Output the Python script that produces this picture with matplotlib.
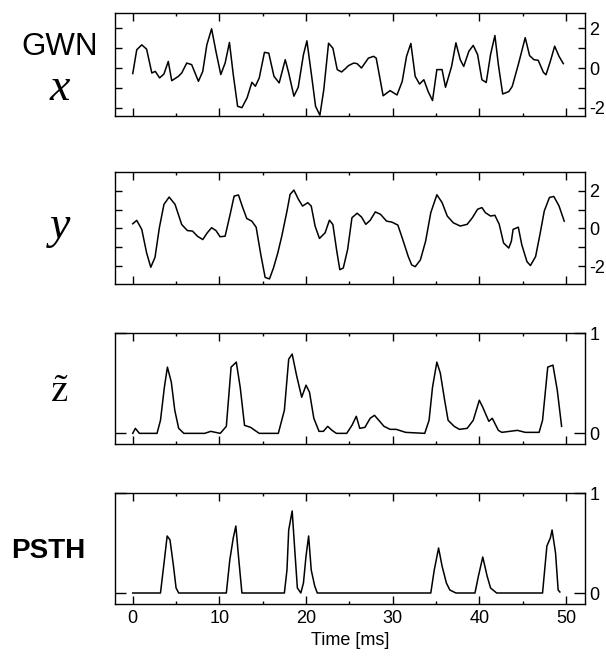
import matplotlib
matplotlib.use("Agg")
import matplotlib.pyplot as plt
from matplotlib.ticker import MultipleLocator

plt.rcParams['font.family'] = ['Liberation Sans', 'DejaVu Sans']
plt.rcParams['mathtext.fontset'] = 'stix'

# GWN input x
t1 = [0, 0.46, 1.04, 1.6, 2.2, 2.6, 3.1, 3.6, 4.1, 4.5, 5.27, 5.65, 6.23, 6.8, 7.58, 8.08, 8.55, 9.1,
      9.6, 10.16, 10.66, 11.16, 11.6, 12.1, 12.6, 13.2, 13.75, 14.15, 14.6, 15.2, 15.7, 16.3, 16.9, 17.6,
      18.0, 18.6, 19.1, 19.7, 20.1, 20.6, 21.1, 21.6, 22.05, 22.6, 23.1, 23.6, 24.1, 24.5, 24.9, 25.5,
      25.9, 26.4, 27.2, 27.8, 28.1, 28.9, 29.7, 30.5, 31.1, 31.6, 32.1, 32.6, 33.1, 33.6, 34.1, 34.6,
      35.1, 35.7, 36.1, 36.8, 37.3, 37.8, 38.2, 38.8, 39.3, 39.8, 40.3, 40.8, 41.3, 41.8, 42.2, 42.7,
      43.4, 43.8, 44.5, 45.3, 45.8, 46.3, 46.8, 47.4, 47.7, 48.2, 48.7, 49.2, 49.7]
x1 = [-0.28, 0.92, 1.17, 0.95, -0.25, -0.17, -0.5, -0.3, 0.33, -0.64, -0.42, -0.25, 0.25, 0.17, -0.67,
      -0.17, 1.17, 1.98, 0.84, -0.33, 0.25, 1.29, -0.33, -1.93, -2.0, -1.5, -0.72, -0.92, -0.5, 0.79,
      0.75, -0.42, -0.75, 0.42, -0.25, -1.42, -0.97, 0.67, 1.37, -0.25, -1.93, -2.38, -1.09, 1.25, 1.0,
      -0.08, -0.2, -0.05, 0.12, 0.25, 0.22, 0, 0.5, 0.59, 0.5, -1.4, -1.14, -1.36, -0.68, 0.59, 1.24,
      -0.42, -0.81, -0.59, -1.19, -1.64, -0.08, -0.08, -0.97, 0.08, 1.27, 0.42, 0.08, 0.85, 1.14, 0.68,
      -0.59, -0.73, 0.68, 1.64, 0.17, -1.31, -1.19, -0.93, 0.17, 1.53, 0.63, 0.42, 0.39, -0.22, -0.34,
      0.34, 1.1, 0.59, 0.22]

# filtered signal y
t2 = [0, 0.46, 1.04, 1.6, 2.08, 2.57, 3.07, 3.6, 4.2, 4.88, 5.65, 6.3, 6.9, 7.46, 8.08, 8.6, 9.1, 9.6,
      10.08, 10.66, 11.24, 11.7, 12.2, 12.7, 13.16, 13.74, 14.24, 14.78, 15.28, 15.78, 16.24, 16.74,
      17.2, 17.8, 18.16, 18.6, 19.12, 19.6, 20.2, 20.6, 21.05, 21.55, 22.2, 22.7, 23.1, 23.55, 23.9,
      24.3, 24.8, 25.3, 25.9, 26.4, 26.9, 27.4, 28.0, 28.6, 29.3, 29.9, 30.6, 31.1, 31.8, 32.2, 32.6,
      33.2, 33.8, 34.4, 35.1, 35.7, 36.3, 37.0, 37.8, 38.6, 39.2, 39.8, 40.3, 40.7, 41.3, 41.8, 42.3,
      42.8, 43.4, 43.7, 43.9, 44.5, 44.9, 45.5, 45.9, 46.5, 47.0, 47.5, 48.1, 48.6, 49.2, 49.8]
y2 = [0.25, 0.43, -0.05, -1.3, -2.06, -1.53, 0.04, 1.28, 1.67, 1.28, 0.21, -0.11, -0.14, -0.41, -0.59,
      -0.23, 0.04, -0.11, -0.44, -0.41, 0.75, 1.72, 1.78, 1.1, 0.53, 0.39, 0.07, -1.39, -2.6, -2.68,
      -2.1, -1.3, -0.41, 0.92, 1.81, 2.04, 1.55, 1.19, 1.37, 1.19, 0.12, -0.53, -0.23, 0.44, 0.21,
      -1.21, -2.19, -2.1, -1.12, 0.57, 0.81, 0.61, 0.22, 0.43, 0.88, 0.75, 0.39, 0.34, 0.18, -0.5,
      -1.49, -1.94, -2.03, -1.67, -0.68, 0.84, 1.79, 1.38, 0.66, 0.3, 0.13, 0.22, 0.57, 1.02, 1.11,
      0.84, 0.66, 0.7, 0.22, -0.77, -1.04, -0.68, -0.05, 0.07, -0.86, -1.76, -1.97, -1.49, -0.32,
      0.93, 1.65, 1.7, 1.2, 0.39]

# model output z~
t3 = [0, 0.3, 0.76, 2.8, 3.2, 3.65, 4.0, 4.45, 4.85, 5.3, 5.9, 8.3, 9.0, 10.1, 10.8, 11.35, 11.95,
      12.4, 12.9, 13.6, 14.6, 16.8, 17.5, 18.0, 18.4, 18.9, 19.5, 20.0, 20.4, 20.9, 21.5, 22.0, 22.5,
      23.0, 23.5, 24.7, 25.3, 25.8, 26.2, 26.8, 27.4, 27.9, 28.4, 29.0, 29.7, 30.4, 31.5, 33.7, 34.2,
      34.6, 35.1, 35.5, 36.0, 36.4, 37.1, 37.7, 38.6, 39.3, 40.0, 40.4, 41.1, 41.5, 42.2, 42.6, 44.4,
      45.3, 46.9, 47.3, 47.9, 48.5, 49.0, 49.5]
z3 = [0, 0.05, 0, 0, 0.13, 0.46, 0.66, 0.51, 0.23, 0.05, 0.0, 0.0, 0.02, 0.0, 0.07, 0.66, 0.71,
      0.46, 0.08, 0.06, 0, 0, 0.23, 0.74, 0.79, 0.58, 0.36, 0.48, 0.41, 0.15, 0.02, 0.02, 0.07,
      0.03, 0, 0, 0.08, 0.17, 0.05, 0.06, 0.15, 0.18, 0.13, 0.07, 0.04, 0.04, 0.01, 0, 0.13,
      0.46, 0.71, 0.6, 0.33, 0.13, 0.07, 0.04, 0.05, 0.13, 0.33, 0.26, 0.12, 0.15, 0.03, 0.01, 0.03,
      0.01, 0.01, 0.13, 0.66, 0.68, 0.43, 0.07]

# PSTH
t4 = [0, 3.2, 3.65, 3.97, 4.3, 4.7, 5.0, 5.3, 10.8, 11.2, 11.6, 11.9, 12.2, 12.6, 17.5, 17.8, 18.0,
      18.4, 18.7, 19.0, 19.4, 19.7, 20.0, 20.3, 20.6, 21.0, 21.3, 34.4, 34.8, 35.3, 35.7, 36.2, 36.6,
      37.3, 39.5, 39.9, 40.4, 40.9, 41.3, 42.0, 47.3, 47.8, 48.2, 48.4, 48.8, 49.1, 49.3]
p4 = [0, 0, 0.33, 0.57, 0.53, 0.27, 0.05, 0, 0, 0.33, 0.55, 0.67, 0.37, 0, 0, 0.23, 0.63,
      0.82, 0.43, 0.05, 0.0, 0.1, 0.37, 0.57, 0.23, 0.07, 0, 0, 0.23, 0.45, 0.27, 0.1, 0.03,
      0, 0, 0.17, 0.36, 0.17, 0.05, 0, 0, 0.47, 0.55, 0.63, 0.4, 0.03, 0.01]

xticks = [0, 10, 20, 30, 40, 50]

W, H = 606, 659
fig = plt.figure(figsize=(W / 100, H / 100), dpi=100)

left, right = 115, 585
boxes = [(12.5, 116), (172, 284), (333, 444), (493, 604)]
axs = []
for top, bot in boxes:
    ax = fig.add_axes([left / W, 1 - bot / H, (right - left) / W, (bot - top) / H])
    axs.append(ax)

axs[0].plot(t1, x1, color="k", lw=1.1)
axs[1].plot(t2, y2, color="k", lw=1.1)
axs[2].plot(t3, z3, color="k", lw=1.1)
axs[3].plot(t4, p4, color="k", lw=1.1)

axs[0].set_ylim(-2.42, 2.8)
axs[1].set_ylim(-2.95, 3.0)
axs[2].set_ylim(-0.106, 1.0)
axs[3].set_ylim(-0.11, 1.0)

for i, ax in enumerate(axs):
    ax.set_xlim(-2.05, 52.2)
    for s in ax.spines.values():
        s.set_linewidth(1.0)
    ax.set_xticks(xticks)
    ax.xaxis.set_minor_locator(MultipleLocator(5))
    ax.tick_params(axis="x", which="major", direction="in", length=6, width=1.0,
                   top=True, bottom=True, labelsize=13, pad=4)
    ax.tick_params(axis="x", which="minor", direction="in", length=2.5, width=1.0,
                   top=True, bottom=True)
    if i < 3:
        ax.tick_params(axis="x", labelbottom=False)
    if i < 2:
        ax.set_yticks([-2, -1, 0, 1, 2], labels=["-2", "", "0", "", "2"])
        ax.tick_params(axis="y", direction="in", length=5, width=1.0, left=True, right=True,
                       labelleft=False, labelright=True, labelsize=13, pad=3)
    else:
        ax.set_yticks([0, 1], labels=["0", "1"])
        ax.tick_params(axis="y", direction="in", length=8, width=1.0, left=True, right=True,
                       labelleft=False, labelright=True, labelsize=13, pad=3)

axs[3].set_xlabel("Time [ms]", fontsize=13, labelpad=4)

fig.text(60 / W, 1 - 47 / H, "GWN", fontsize=22.5, ha="center", va="center")
fig.text(60 / W, 1 - 89 / H, "x", fontsize=33, ha="center", va="center",
         family="Liberation Serif", style="italic")
fig.text(60 / W, 1 - 227 / H, "y", fontsize=33, ha="center", va="center",
         family="Liberation Serif", style="italic")
fig.text(60 / W, 1 - 392 / H, r"$\tilde{\mathrm{z}}$", fontsize=28, ha="center", va="center")
fig.text(48 / W, 1 - 551 / H, "PSTH", fontsize=20, fontweight="bold", ha="center", va="center")

fig.savefig("out.png", dpi=100)
